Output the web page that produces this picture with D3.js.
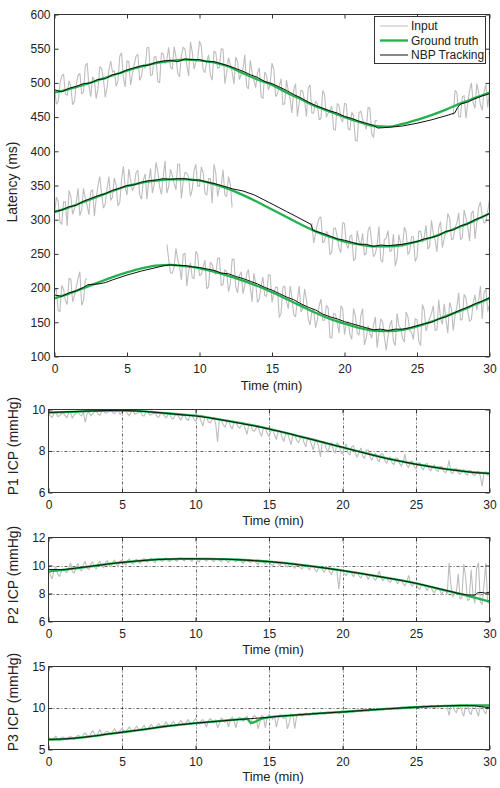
<!DOCTYPE html>
<html><head><meta charset="utf-8">
<script src="https://cdn.jsdelivr.net/npm/d3@7"></script>
<style>
body{margin:0;background:#fff}
svg{display:block}
text{font-family:"Liberation Sans",Arial,Helvetica,sans-serif;fill:#222}
</style>
</head><body>
<svg id="c" width="500" height="788"></svg>
<script>
// ---------------- DATA ----------------
const xTickValues = [0, 5, 10, 15, 20, 25, 30];
const minutes = [0,1,2,3,4,5,6,7,8,9,10,11,12,13,14,15,16,17,18,19,20,21,22,23,24,25,26,27,28,29,30];
const inputStep = 0.125; // minutes between raw input samples

// Top chart: latency (ms), three peaks
const truthA = [486,491,497,504,511,518,524,529,532,534,533,530,524,514,505,497,486,476,466,458,450,443,437,436,440,446,453,461,470,478,486];
const truthB = [311,318,326,334,342,349,354,357,359,359,357,352,345,336,326,315,304,293,283,275,268,264,261,261,263,268,274,282,290,299,309];
const truthC = [185,192,200,208,216,223,229,233,234,232,229,224,218,211,203,194,184,174,164,155,148,142,138,137,139,144,151,159,167,176,185];

const inputA1Start = 0;
const inputA1 = [494,469,472,499,510,513,484,482,503,495,468,473,498,511,514,484,487,525,529,496,480,509,504,477,492,524,521,506,479,493,519,532,516,518,495,503,539,544,508,494,532,531,497,513,527,539,542,504,510,527,521,551,552,511,512,538,538,502,500,544,542,528,534,552,523,520,553,538,514,509,540,552,550,526,510,560,545,520,531,534,561,554,519,515,532,541,511,504,547,544,521,523,550,549,499,515,537,527,516,498,538,531,505,513,520,541,495,491,533,515,504,493,515,522,480,477,516,511,490,498,529,520,480,484,495,506,468,470,504,488,477,456,490,499,451,471,490,487,473,451,493,497,456,456,473,470,446,448,489,483,450,456,461,466,432,431,470,467,448,443,470,469,433,431,457,452,416,415,456,459,446,440,432,464,463,426,420,445,445];
const inputA2Start = 27.5;
const inputA2 = [453,489,486,451,450,480,481,448,470,489,500,471,463,499,486,468,460,487,498,464,489];
const inputB1Start = 0;
const inputB1 = [306,333,327,297,293,326,326,291,343,334,308,316,325,346,306,315,346,331,321,307,341,344,305,331,350,363,338,317,323,346,363,328,333,361,350,320,325,358,378,348,336,374,358,342,349,369,372,336,330,358,367,330,356,375,339,351,384,370,348,337,363,386,339,348,374,364,353,344,381,381,331,356,369,368,362,334,344,372,381,349,349,377,369,339,336,360,360,324,381,368,334,348,350,373,336,334,363,352,318];
const inputB2Start = 17.75;
const inputB2 = [295,266,279,293,302,304,266,269,283,279,249,253,287,288,275,258,252,296,294,264,258,275,278,240,243,284,269,263,280,248,251,284,290,267,246,250,263,290,241,238,271,273,284,254,255,279,232,243,278,265,260,289,283,249,254,275,275,239,245,283,283,267,275,292,257,261,299,280,270,253,289,297,259,273,282,309,302,271,272,288,295,310,271,274,314,303,290,269,309,313,272,295,318,326,305,295,297,312,329];
const inputC1Start = 0;
const inputC1 = [195,200,167,166,204,198,182,176,214,213,180,189,201,214,224,175,182,212,214];
const inputC2Start = 7.75;
const inputC2 = [264,242,222,222,231,258,242,232,212,249,251,203,224,237,215,214,254,249,218,220,230,241,199,202,238,234,223,220,243,244,204,205,227,224,195,206,242,242,202,193,218,224,192,204,220,227,201,180,222,207,179,184,204,216,189,188,219,219,179,193,201,201,157,163,201,203,180,170,203,187,161,158,183,203,165,171,199,183,155,146,167,169,142,153,174,184,153,153,175,171,128,127,163,162,149,134,174,170,132,148,151,132,125,170,159,135,131,160,170,117,127,145,134,127,146,158,113,135,155,151,129,109,129,146,153,122,116,163,145,141,127,121,165,158,138,135,125,155,154,122,116,176,168,137,147,156,163,174,138,139,183,155,147,177,154,134,179,170,138,160,173,193,153,155,191,186,166,152,154,178,190,168,182,203,155,193,199,166,176];

const trackTimeA = [0,0.5,1,1.5,2,2.5,3,3.5,4,4.5,5,5.5,6,6.5,7,7.5,8,8.5,9,9.5,10,10.5,11,11.5,12,12.5,13,13.5,14,14.5,15,15.5,16,16.5,17,17.5,18,18.5,19,19.5,20,20.5,21,21.5,22,22.3,23,24,25,26,27,27.6,27.8,28,28.5,29,29.5,30];
const trackA = [490,487,492,495,499,500,505,506,512,514,519,522,525,526,530,532,533,531,535,534,534,531,531,528,525,521,517,512,508,502,499,494,489,483,478,472,467,463,459,456,451,448,444,441,438,434,435,437,441,446,452,456,464,469,472,477,481,484];
const trackTimeB = [0,0.5,1,1.5,2,2.5,3,3.5,4,4.5,5,5.5,6,6.5,7,7.5,8,8.5,9,9.5,10,10.5,11,11.5,12,12.3,13,13.8,15,16,17,17.7,17.8,18,18.5,19,19.5,20,20.5,21,21.5,22,22.5,23,23.5,24,24.5,25,25.5,26,26.5,27,27.5,28,28.5,29,29.5,30];
const trackB = [312,314,319,321,327,331,335,338,343,346,350,351,355,357,358,360,359,360,360,358,358,355,353,350,347,345,342,336,323,312,301,293,285,283,280,276,272,270,267,264,264,261,263,262,263,264,266,268,272,274,277,283,285,291,294,300,304,309];
const trackTimeC = [0,0.5,1,1.5,2,2.3,3,3.5,4,5,6,7,7.6,8,8.5,9,9.5,10,10.5,11,11.5,12,12.5,13,13.5,14,14.5,15,15.5,16,16.5,17,17.5,18,18.5,19,19.5,20,20.5,21,21.5,22,22.5,23,23.5,24,24.5,25,25.5,26,26.5,27,27.5,28,28.5,29,29.5,30];
const trackC = [190,188,193,196,201,205,206,208,212,219,225,230,233,234,233,233,231,230,228,226,222,221,217,214,210,206,201,197,192,187,183,177,172,168,162,158,155,151,148,145,142,139,140,138,140,140,142,145,148,150,155,158,163,168,172,177,181,186];

// P1 ICP (mmHg)
const p1Truth = [9.85,9.87,9.9,9.93,9.95,9.95,9.93,9.88,9.82,9.76,9.7,9.6,9.48,9.35,9.22,9.07,8.9,8.72,8.55,8.36,8.18,8.0,7.82,7.65,7.5,7.37,7.25,7.14,7.05,6.97,6.92];
const p1Track = [9.86,9.88,9.91,9.93,9.95,9.96,9.93,9.88,9.82,9.75,9.69,9.59,9.47,9.34,9.21,9.06,8.9,8.72,8.54,8.36,8.18,7.99,7.81,7.64,7.5,7.36,7.24,7.13,7.04,6.96,6.92];
const p1Input = [9.78,9.70,9.62,9.82,9.88,9.66,9.70,9.80,9.84,9.72,9.60,9.85,9.86,9.58,9.75,9.82,9.88,9.75,9.70,9.87,9.38,9.80,9.89,9.70,9.80,9.88,9.92,9.78,9.72,9.90,9.93,9.82,9.85,9.90,9.96,9.84,9.80,9.93,9.94,9.76,9.88,9.92,9.96,9.80,9.70,9.88,9.92,9.78,9.82,9.86,9.94,9.72,9.68,9.88,9.90,9.74,9.75,9.80,9.88,9.66,9.62,9.81,9.84,9.70,9.60,9.74,9.82,9.58,9.55,9.76,9.78,9.62,9.50,9.68,9.76,9.54,9.48,9.70,9.72,9.56,9.42,9.60,9.70,9.45,9.20,9.62,9.64,9.40,9.35,9.50,9.62,9.30,8.45,9.52,9.50,9.28,9.15,9.38,9.47,9.20,9.05,9.40,9.40,9.18,9.10,9.25,9.34,9.08,8.80,9.26,9.28,9.00,8.95,9.10,9.22,8.90,8.70,9.12,9.12,8.85,8.70,8.95,9.05,8.78,8.55,8.96,8.98,8.70,8.45,8.78,8.90,8.60,8.30,8.79,8.80,8.52,8.40,8.60,8.75,8.42,8.20,8.62,8.62,8.35,8.05,8.42,8.56,8.20,7.72,8.44,8.45,8.15,7.95,8.24,8.42,8.05,7.90,8.40,8.30,8.00,7.85,8.12,8.35,7.90,7.80,8.20,8.25,7.88,7.70,7.95,8.15,7.75,7.65,8.05,8.05,7.72,7.55,7.78,7.90,7.58,7.50,7.86,7.85,7.55,7.40,7.60,7.72,7.42,7.35,7.66,7.65,7.40,7.28,7.46,7.85,7.30,7.20,7.50,7.50,7.25,7.15,7.34,7.45,7.18,7.10,7.36,7.40,7.15,7.05,7.22,7.32,7.08,7.02,7.24,7.26,7.04,6.95,7.12,7.55,6.98,6.92,7.14,7.15,6.95,6.88,7.03,7.10,6.90,6.85,7.05,7.05,6.86,6.82,6.98,7.02,6.80,6.30,6.96,7.00,6.84,6.85];

// P2 ICP (mmHg)
const p2Truth = [9.57,9.68,9.82,9.96,10.1,10.22,10.32,10.4,10.45,10.48,10.48,10.47,10.45,10.41,10.35,10.28,10.18,10.06,9.93,9.79,9.64,9.47,9.3,9.12,8.93,8.72,8.48,8.22,7.97,7.7,7.43];
const p2TrackTime = [0,1,2,3,4,5,6,7,8,9,10,11,12,13,14,15,16,17,18,19,20,21,22,23,24,25,26,27,28,28.5,29,29.2,29.5,29.7,30];
const p2Track = [9.72,9.7,9.83,9.96,10.1,10.22,10.32,10.4,10.45,10.48,10.48,10.47,10.45,10.41,10.35,10.28,10.18,10.06,9.93,9.79,9.64,9.47,9.3,9.12,8.93,8.73,8.49,8.23,7.98,7.9,7.88,8.05,8.08,8.02,8.1];
const p2Input = [9.85,9.3,9.05,9.7,9.90,9.4,9.20,9.6,9.75,9.6,9.50,9.85,10.2,9.55,9.45,9.9,10.15,9.75,9.60,10.05,10.3,9.8,9.70,10.1,10.25,9.9,9.75,10.15,10.3,9.95,9.85,10.2,10.35,10.0,9.90,10.25,10.38,10.05,10.0,10.3,10.4,10.15,10.05,10.35,10.45,10.2,10.1,10.38,10.45,10.25,10.15,10.42,10.5,10.3,10.25,10.45,10.5,10.32,10.2,10.48,10.52,10.35,10.3,10.5,10.55,10.38,10.28,10.5,10.52,10.4,10.3,10.52,10.55,10.4,10.32,10.5,10.52,10.42,10.3,10.5,10.5,10.38,10.25,10.5,10.5,10.4,10.3,10.48,10.5,10.36,10.28,10.48,10.48,10.38,10.25,10.46,10.47,10.33,10.2,10.44,10.46,10.35,10.25,10.42,10.42,10.28,10.15,10.4,10.4,10.3,10.2,10.36,10.37,10.2,10.05,10.33,10.34,10.22,10.1,10.3,10.3,10.1,9.95,10.24,10.25,10.12,10.0,10.2,10.2,10.0,9.9,10.13,10.14,9.95,9.8,10.08,10.08,9.85,9.75,10.0,10.02,9.88,9.7,9.95,9.95,9.7,9.55,9.86,9.88,9.72,9.5,9.8,9.82,9.55,9.35,9.72,9.74,9.6,8.3,9.65,9.66,9.4,9.3,9.56,9.6,9.45,9.2,9.5,9.5,9.25,9.1,9.4,9.45,9.3,9.0,9.3,9.35,9.1,8.95,9.22,9.6,9.12,8.9,9.15,9.15,8.9,8.8,9.05,9.1,8.92,8.7,8.95,9.0,8.7,8.55,8.85,9.3,8.72,8.5,8.75,8.75,8.45,8.3,8.62,8.65,8.5,8.2,8.5,8.5,8.2,8.05,8.38,8.4,8.25,7.9,8.25,8.25,7.95,10.2,8.6,7.75,8.0,8.1,9.4,7.6,7.7,10.1,9.2,7.5,7.6,9.7,8.0,7.3,9.8,10.2,7.4,7.2,8.6,10.15,7.35,7.3];

// P3 ICP (mmHg)
const p3TruthTime = [0,1,2,3,4,5,6,7,8,9,10,11,12,13,13.5,13.8,14.5,15,16,17,18,19,20,21,22,23,24,25,26,27,28,29,30];
const p3Truth = [6.2,6.25,6.4,6.6,6.85,7.08,7.3,7.55,7.8,8.0,8.17,8.33,8.48,8.62,8.68,8.2,8.72,8.88,9.05,9.18,9.3,9.42,9.52,9.65,9.78,9.9,10.0,10.1,10.2,10.25,10.3,10.32,10.3];
const p3Track = [6.22,6.27,6.4,6.6,6.85,7.08,7.3,7.55,7.8,8.0,8.17,8.33,8.48,8.62,8.75,8.88,9.05,9.18,9.3,9.42,9.52,9.65,9.78,9.9,10.0,10.1,10.2,10.25,10.3,10.27,10.02];
const p3Input = [6.5,6.3,6.05,6.4,6.6,6.2,6.1,6.45,6.5,6.3,6.15,6.45,6.6,6.35,6.2,6.5,6.7,6.6,6.3,6.8,7.0,6.65,6.45,6.9,7.3,6.9,6.6,7.0,7.4,6.85,6.7,7.1,7.2,7.0,6.8,7.2,7.5,7.1,6.95,7.3,7.55,7.25,7.05,7.4,7.7,7.3,7.2,7.5,7.8,7.5,7.3,7.6,7.9,7.55,7.4,7.75,8.0,7.7,7.5,7.85,8.1,7.8,7.65,7.95,8.3,7.95,7.8,8.1,8.4,8.0,7.85,8.2,8.5,8.15,7.95,8.3,8.6,8.2,8.05,8.4,8.7,8.35,8.1,8.45,8.6,8.2,7.7,8.5,8.7,8.5,8.2,8.6,7.6,8.1,8.8,8.55,8.3,8.6,7.7,8.7,8.9,8.4,7.6,8.75,8.9,8.75,8.4,8.8,9.0,8.6,7.9,8.85,9.1,8.9,7.5,8.3,9.1,8.95,7.6,8.85,9.2,9.0,8.6,9.05,7.7,8.7,9.2,9.1,8.7,9.15,7.5,8.2,9.3,9.2,7.5,9.0,9.3,9.3,9.0,9.2,9.4,9.35,9.1,9.3,9.45,9.4,9.15,9.35,9.5,9.45,9.25,9.4,9.55,9.5,9.3,9.45,9.6,9.55,9.35,9.5,9.65,9.6,9.4,9.55,9.7,9.65,9.5,9.6,9.75,9.75,9.55,9.7,9.85,9.8,9.6,9.72,9.9,9.85,9.7,9.8,9.95,9.9,9.75,9.85,10.0,9.95,9.8,9.92,10.05,10.0,9.85,9.95,10.1,10.05,9.9,10.02,10.15,10.1,9.95,10.05,10.2,10.15,10.0,10.12,10.25,10.2,10.05,10.15,10.3,10.25,10.1,10.2,10.35,10.28,10.15,10.22,10.3,10.1,9.1,10.3,10.35,9.7,9.4,10.3,10.35,9.6,9.0,10.35,10.4,9.5,9.2,10.3,10.3,9.7,9.0,10.3,10.4,9.6,9.3,10.25,10.2];

const legendLabels = ["Input", "Ground truth", "NBP Tracking"];

// ---------------- STYLE ----------------
const FONT = '"Liberation Sans", Arial, Helvetica, sans-serif';
const C_INPUT = "#bdbdbd", C_TRUTH = "#22b14c", C_TRACK = "#111";
const svg = d3.select("#c");

function pairs(times, vals){ return vals.map((v,i)=>[times[i], v]); }
function stepTimes(start, n){ return d3.range(n).map(i => start + i*inputStep); }

function makePanel(o){
  const x = d3.scaleLinear().domain([0,30]).range([o.left, o.right]);
  const y = d3.scaleLinear().domain(o.domain).range([o.bottom, o.top]);
  const g = svg.append("g");
  const cid = "clip_" + o.name;
  svg.append("clipPath").attr("id", cid).append("rect")
    .attr("x", o.left).attr("y", o.top).attr("width", o.right-o.left).attr("height", o.bottom-o.top);
  if (o.grid){
    const gg = g.append("g").attr("stroke","#222").attr("stroke-width",0.7).attr("stroke-dasharray","3,2,1,2");
    gg.selectAll("line.v").data(xTickValues.filter(d=>d>0&&d<30)).join("line").attr("class","v")
      .attr("x1",d=>Math.round(x(d))+0.5).attr("x2",d=>Math.round(x(d))+0.5).attr("y1",o.top).attr("y2",o.bottom);
    gg.selectAll("line.h").data(o.gridY).join("line").attr("class","h")
      .attr("x1",o.left).attr("x2",o.right).attr("y1",d=>Math.round(y(d))+0.5).attr("y2",d=>Math.round(y(d))+0.5);
  }
  const plot = g.append("g").attr("clip-path", `url(#${cid})`);
  const line = d3.line().x(d=>x(d[0])).y(d=>y(d[1]));
  const smooth = d3.line().x(d=>x(d[0])).y(d=>y(d[1])).curve(d3.curveMonotoneX);
  const styleAxis = s => { s.select(".domain").remove(); s.attr("font-family",FONT).attr("font-size",12);
    s.selectAll("line").attr("stroke","#333"); s.selectAll("text").attr("fill","#222"); };
  g.append("g").attr("transform",`translate(0,${o.bottom})`)
    .call(d3.axisBottom(x).tickValues(xTickValues).tickSize(-4).tickPadding(8)).call(styleAxis);
  g.append("g").attr("transform",`translate(0,${o.top})`)
    .call(d3.axisTop(x).tickValues(xTickValues).tickSize(-4).tickFormat("")).call(styleAxis);
  g.append("g").attr("transform",`translate(${o.left},0)`)
    .call(d3.axisLeft(y).tickValues(o.yTicks).tickSize(-4).tickPadding(o.yPad).tickFormat(d3.format("d"))).call(styleAxis);
  g.append("g").attr("transform",`translate(${o.right},0)`)
    .call(d3.axisRight(y).tickValues(o.yTicks).tickSize(-4).tickFormat("")).call(styleAxis);
  g.append("rect").attr("x",o.left).attr("y",o.top).attr("width",o.right-o.left).attr("height",o.bottom-o.top)
    .attr("fill","none").attr("stroke","#333").attr("stroke-width",1);
  g.append("text").attr("x",o.titleX).attr("y",o.titleY).attr("text-anchor","middle")
    .attr("font-size",13).text("Time (min)");
  g.append("text").attr("transform",`translate(${o.ylabX},${o.ylabY}) rotate(-90)`).attr("text-anchor","middle")
    .attr("font-size",14).text(o.ylabel);
  return {x, y, g, plot, line, smooth};
}

function drawInput(p, start, vals){
  p.plot.append("path").datum(pairs(stepTimes(start, vals.length), vals))
    .attr("d", p.line).attr("fill","none").attr("stroke",C_INPUT).attr("stroke-width",1.1)
    .attr("stroke-linejoin","miter").attr("stroke-miterlimit",2);
}
function drawTruth(p, times, vals){
  p.plot.append("path").datum(pairs(times, vals))
    .attr("d", p.smooth).attr("fill","none").attr("stroke",C_TRUTH).attr("stroke-width",2.3);
}
function drawTrack(p, times, vals){
  p.plot.append("path").datum(pairs(times, vals))
    .attr("d", p.line).attr("fill","none").attr("stroke",C_TRACK).attr("stroke-width",1);
}

// ---------------- TOP PANEL ----------------
const topP = makePanel({name:"top", left:54.5, right:489.5, top:14.5, bottom:356.5, domain:[100,600],
  yTicks:[100,150,200,250,300,350,400,450,500,550,600], yPad:4, grid:false,
  titleX:271.5, titleY:390, ylabel:"Latency (ms)", ylabX:17, ylabY:182});
[[inputA1Start,inputA1],[inputA2Start,inputA2],[inputB1Start,inputB1],[inputB2Start,inputB2],[inputC1Start,inputC1],[inputC2Start,inputC2]]
  .forEach(s=>drawInput(topP, s[0], s[1]));
drawTruth(topP, minutes, truthA); drawTruth(topP, minutes, truthB); drawTruth(topP, minutes, truthC);
drawTrack(topP, trackTimeA, trackA); drawTrack(topP, trackTimeB, trackB); drawTrack(topP, trackTimeC, trackC);

// legend
const lg = svg.append("g");
lg.append("rect").attr("x",374.5).attr("y",16.5).attr("width",111).attr("height",47)
  .attr("fill","#fff").attr("stroke","#333").attr("stroke-width",1);
const legStyles = [[C_INPUT,1],[C_TRUTH,2.3],[C_TRACK,1]];
legendLabels.forEach((lab,i)=>{
  const yy = 26 + i*14.5;
  lg.append("line").attr("x1",380).attr("x2",408).attr("y1",yy).attr("y2",yy)
    .attr("stroke",legStyles[i][0]).attr("stroke-width",legStyles[i][1]);
  lg.append("text").attr("x",411).attr("y",yy+4.3).attr("font-size",12).text(lab);
});

// ---------------- P1 ----------------
const p1 = makePanel({name:"p1", left:48.5, right:489.5, top:409.5, bottom:492.5, domain:[6,10],
  yTicks:[6,8,10], yPad:3, grid:true, gridY:[8],
  titleX:273, titleY:525, ylabel:"P1 ICP (mmHg)", ylabX:18, ylabY:446});
drawInput(p1, 0, p1Input); drawTruth(p1, minutes, p1Truth); drawTrack(p1, minutes, p1Track);

// ---------------- P2 ----------------
const p2 = makePanel({name:"p2", left:48.5, right:489.5, top:537.5, bottom:621.5, domain:[6,12],
  yTicks:[6,8,10,12], yPad:3, grid:true, gridY:[8,10],
  titleX:273, titleY:654, ylabel:"P2 ICP (mmHg)", ylabX:18, ylabY:575});
drawInput(p2, 0, p2Input); drawTruth(p2, minutes, p2Truth); drawTrack(p2, p2TrackTime, p2Track);

// ---------------- P3 ----------------
const p3 = makePanel({name:"p3", left:48.5, right:489.5, top:666.5, bottom:749.5, domain:[5,15],
  yTicks:[5,10,15], yPad:3, grid:true, gridY:[10],
  titleX:273, titleY:781, ylabel:"P3 ICP (mmHg)", ylabX:18, ylabY:702});
drawInput(p3, 0, p3Input); drawTruth(p3, p3TruthTime, p3Truth); drawTrack(p3, minutes, p3Track);
</script>
</body></html>
